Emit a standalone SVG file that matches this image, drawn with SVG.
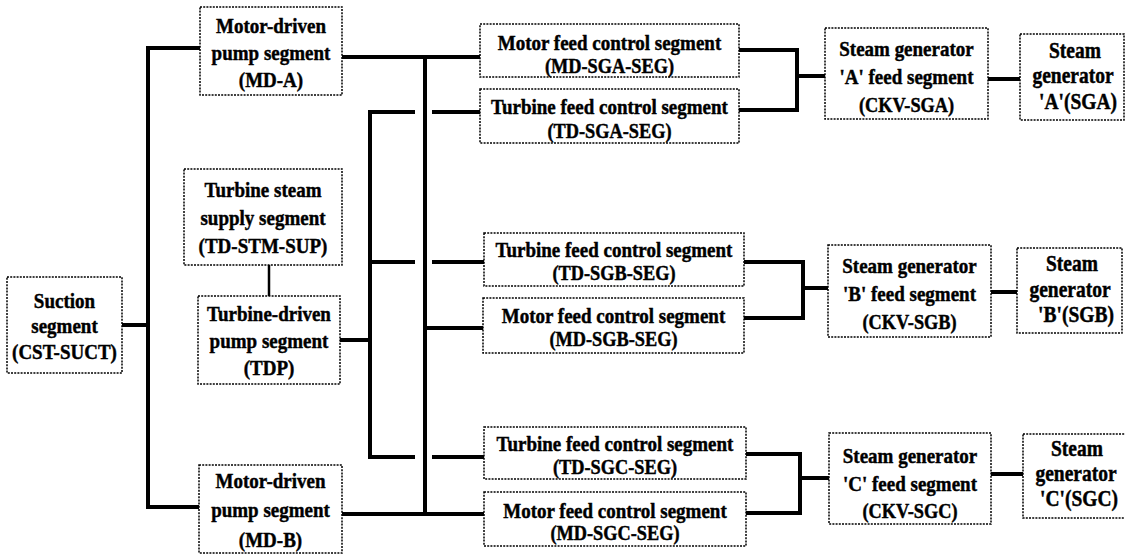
<svg xmlns="http://www.w3.org/2000/svg" width="1125" height="554" viewBox="0 0 1125 554">
  <style>
    .box { fill: #fff; stroke: #000; stroke-width: 1.5; stroke-dasharray: 2 1.2; }
    .wire { fill: none; stroke: #000; stroke-width: 4; stroke-linejoin: miter; stroke-linecap: butt; }
    .thin { fill: none; stroke: #000; stroke-width: 2.5; }
    text { font-family: "Liberation Serif", "Times New Roman", serif; font-weight: bold; font-size: 19px; fill: #000; stroke: #000; stroke-width: 0.4; text-anchor: middle; transform-box: fill-box; transform-origin: center; transform: scaleY(1.15); }
    .code { font-size: 18.3px; }
    .sg { font-size: 19.5px; }
  </style>
  <rect width="1125" height="554" fill="#fff"/>

  <!-- piping connectors -->
  <g id="connectors">
    <!-- suction header feeding the three pumps -->
    <path class="wire" d="M122 325 H148"/>
    <path class="wire" d="M200 48 H148 V507 H199"/>
    <!-- steam supply to turbine-driven pump -->
    <path class="thin" d="M269 265 V296"/>
    <!-- motor-driven pump discharge header -->
    <path class="wire" d="M342 57 H480"/>
    <path class="wire" d="M425 57 V514"/>
    <path class="wire" d="M342 514 H484"/>
    <path class="wire" d="M425 328 H483"/>
    <!-- turbine-driven pump discharge header (jumps over motor header) -->
    <path class="wire" d="M340 340 H370"/>
    <path class="wire" d="M415 112 H370 V457 H415"/>
    <path class="wire" d="M370 262 H415"/>
    <path class="wire" d="M432 112 H480"/>
    <path class="wire" d="M432 262 H484"/>
    <path class="wire" d="M432 457 H484"/>
    <!-- SG A feed -->
    <path class="wire" d="M739 50 H797 V110 H739"/>
    <path class="wire" d="M797 76 H825"/>
    <path class="wire" d="M988 79 H1020"/>
    <!-- SG B feed -->
    <path class="wire" d="M744 262 H803 V318 H744"/>
    <path class="wire" d="M803 288 H828"/>
    <path class="wire" d="M991 292 H1017"/>
    <!-- SG C feed -->
    <path class="wire" d="M746 454 H800 V513 H746"/>
    <path class="wire" d="M800 478 H829"/>
    <path class="wire" d="M991 474 H1023"/>
  </g>

  <g id="suct">
    <rect class="box" x="7" y="277" width="115" height="96"/>
    <text x="64.5" y="307">Suction</text>
    <text x="64.5" y="332">segment</text>
    <text x="64.5" y="358">(CST-SUCT)</text>
  </g>

  <g id="md-a">
    <rect class="box" x="200" y="7" width="142" height="88"/>
    <text x="271" y="32">Motor-driven</text>
    <text x="271" y="59">pump segment</text>
    <text x="271" y="86">(MD-A)</text>
  </g>

  <g id="td-stm-sup">
    <rect class="box" x="184" y="169" width="158" height="96"/>
    <text x="263" y="196">Turbine steam</text>
    <text x="263" y="224">supply segment</text>
    <text x="263" y="252">(TD-STM-SUP)</text>
  </g>

  <g id="tdp">
    <rect class="box" x="198" y="296" width="142" height="88"/>
    <text x="269" y="320">Turbine-driven</text>
    <text x="269" y="347">pump segment</text>
    <text x="269" y="374">(TDP)</text>
  </g>

  <g id="md-b">
    <rect class="box" x="199" y="465" width="143" height="88"/>
    <text x="270.5" y="487">Motor-driven</text>
    <text x="270.5" y="516">pump segment</text>
    <text x="270.5" y="546">(MD-B)</text>
  </g>

  <g id="md-sga-seg">
    <rect class="box" x="480" y="24" width="259" height="53"/>
    <text x="609.5" y="49">Motor feed control segment</text>
    <text x="609.5" y="72" class="code">(MD-SGA-SEG)</text>
  </g>

  <g id="td-sga-seg">
    <rect class="box" x="480" y="89" width="259" height="54"/>
    <text x="609.5" y="113">Turbine feed control segment</text>
    <text x="609.5" y="137" class="code">(TD-SGA-SEG)</text>
  </g>

  <g id="td-sgb-seg">
    <rect class="box" x="484" y="233" width="260" height="53"/>
    <text x="614" y="256">Turbine feed control segment</text>
    <text x="614" y="279" class="code">(TD-SGB-SEG)</text>
  </g>

  <g id="md-sgb-seg">
    <rect class="box" x="483" y="298" width="261" height="55"/>
    <text x="613.5" y="322">Motor feed control segment</text>
    <text x="613.5" y="345" class="code">(MD-SGB-SEG)</text>
  </g>

  <g id="td-sgc-seg">
    <rect class="box" x="484" y="427" width="262" height="52"/>
    <text x="615" y="450">Turbine feed control segment</text>
    <text x="615" y="473" class="code">(TD-SGC-SEG)</text>
  </g>

  <g id="md-sgc-seg">
    <rect class="box" x="484" y="492" width="262" height="54"/>
    <text x="615" y="517">Motor feed control segment</text>
    <text x="615" y="539" class="code">(MD-SGC-SEG)</text>
  </g>

  <g id="ckv-sga">
    <rect class="box" x="825" y="28" width="163" height="91"/>
    <text x="906.5" y="55">Steam generator</text>
    <text x="906.5" y="83">'A' feed segment</text>
    <text x="906.5" y="111" class="code">(CKV-SGA)</text>
  </g>

  <g id="ckv-sgb">
    <rect class="box" x="828" y="245" width="163" height="92"/>
    <text x="909.5" y="272">Steam generator</text>
    <text x="909.5" y="300">'B' feed segment</text>
    <text x="909.5" y="328" class="code">(CKV-SGB)</text>
  </g>

  <g id="ckv-sgc">
    <rect class="box" x="829" y="433" width="162" height="91"/>
    <text x="910" y="462">Steam generator</text>
    <text x="910" y="490">'C' feed segment</text>
    <text x="910" y="517" class="code">(CKV-SGC)</text>
  </g>

  <g id="sga">
    <rect class="box" x="1020" y="34" width="104" height="86"/>
    <text x="1075" y="57" class="sg">Steam</text>
    <text x="1073" y="82" class="sg">generator</text>
    <text x="1078" y="108" class="sg">'A'(SGA)</text>
  </g>

  <g id="sgb">
    <rect class="box" x="1017" y="248" width="105" height="85"/>
    <text x="1072" y="270" class="sg">Steam</text>
    <text x="1070" y="296" class="sg">generator</text>
    <text x="1076" y="321" class="sg">'B'(SGB)</text>
  </g>

  <g id="sgc">
    <rect class="box" x="1023" y="434" width="106" height="84"/>
    <text x="1077" y="455" class="sg">Steam</text>
    <text x="1076" y="480" class="sg">generator</text>
    <text x="1079" y="505" class="sg">'C'(SGC)</text>
  </g>
</svg>
